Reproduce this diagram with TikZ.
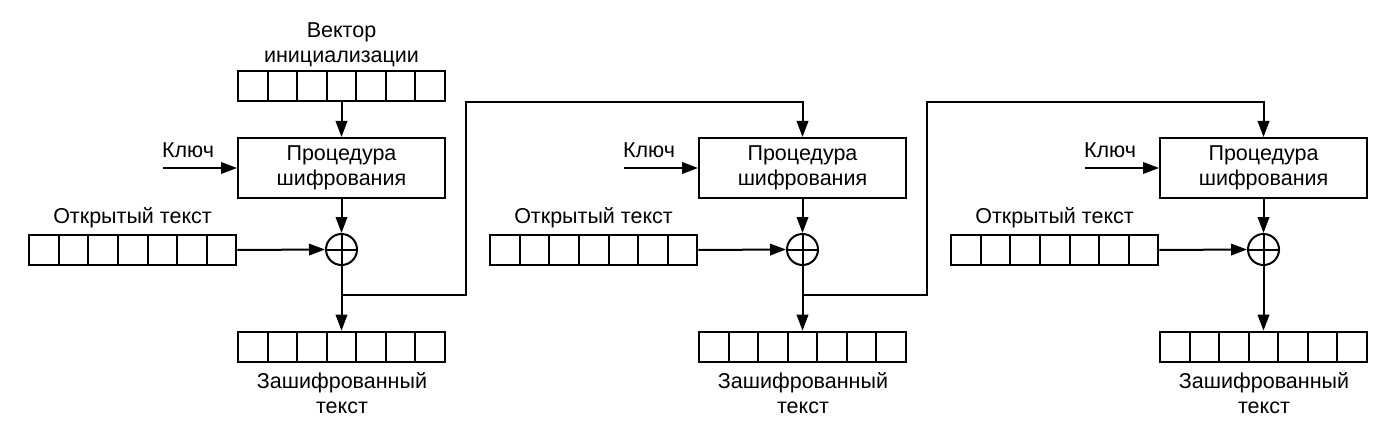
\documentclass[tikz,border=0pt]{standalone}
\usepackage{fontspec}
\setmainfont{Liberation Sans}
\usetikzlibrary{arrows.meta,calc}
\begin{document}
\begin{tikzpicture}[x=0.5pt,y=-0.5pt,line width=1pt,
  font=\fontsize{10.75}{12.5}\selectfont,
  arr/.style={-{Triangle[length=8pt,width=5.75pt]}},
  reg/.style={draw,minimum width=103.5pt,minimum height=15pt,inner sep=0pt,
    path picture={\foreach \k in {1,...,6}{\draw[line width=1pt]
      ([xshift=\k*103.5pt/7]path picture bounding box.south west) --
      ([xshift=\k*103.5pt/7]path picture bounding box.north west);}}},
  encbox/.style={draw,minimum width=103.5pt,minimum height=30pt,inner sep=0pt,align=center},
  xorn/.style={draw,circle,minimum size=15.5pt,inner sep=0pt,
    path picture={\draw[line width=1pt]
      (path picture bounding box.north) -- (path picture bounding box.south)
      (path picture bounding box.west) -- (path picture bounding box.east);}},
  lbl/.style={align=center,inner sep=0pt}]
\useasboundingbox (0,0) rectangle (1400,438);
\foreach \i/\dx in {1/0,2/461,3/922}{
  \begin{scope}[xshift=\dx*0.5pt]
    \node[encbox] (e\i) at (341.5,168) {Процедура\\шифрования};
    \node[xorn] (x\i) at (341.5,249.5) {};
    \node[reg] (p\i) at (132.8,250) {};
    \node[reg] (c\i) at (341.5,346.7) {};
    \node[lbl] (k\i) at (188,150) {Ключ};
    \coordinate (ks\i) at (163,168);
    \node[lbl] (pl\i) at (132.5,217.5) {Открытый текст};
    \node[lbl] (cl\i) at (342,393) {Зашифрованный\\текст};
    \draw[arr] (ks\i) -- (e\i.west);
    \draw[arr] (e\i.south) -- (x\i.north);
    \draw[arr] (p\i.east) -- (x\i.west);
    \draw[arr] (x\i.south) -- (c\i.north);
  \end{scope}
}
\node[reg] (iv) at (341.5,86) {};
\node[lbl] (ivl) at (341.5,45) {Вектор\\инициализации};
\draw[arr] (iv.south) -- (e1.north);
\coordinate (j1) at (341.5,295);
\coordinate (r1) at (466,102);
\coordinate (j2) at (802.5,295);
\coordinate (r2) at (927,102);
\draw[arr] (j1) -| (r1) -| (e2.north);
\draw[arr] (j2) -| (r2) -| (e3.north);
\end{tikzpicture}
\end{document}
